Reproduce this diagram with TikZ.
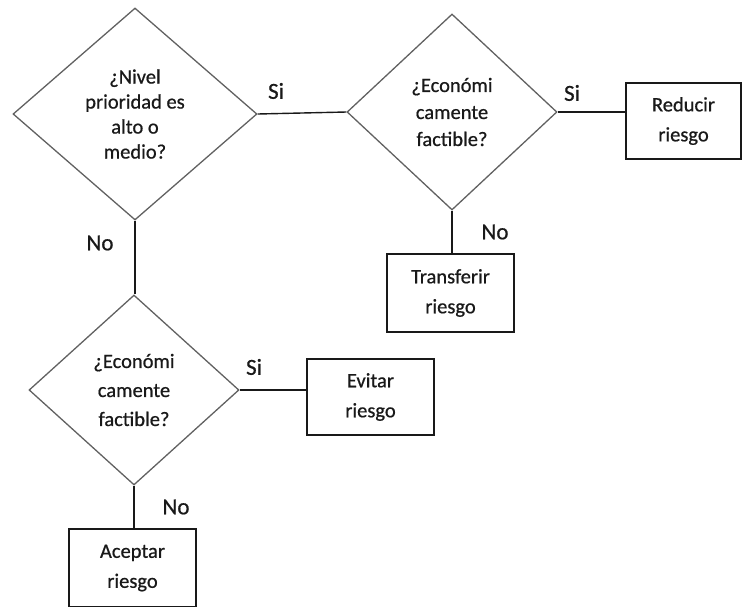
\documentclass[tikz,border=0pt]{standalone}
\usepackage{fontspec}
\setmainfont{Carlito}[FakeBold=0.7]
\usetikzlibrary{shapes.geometric}
\begin{document}
\begin{tikzpicture}[x=1pt,y=-1pt,
  decision/.style={diamond, draw=black!62, line width=1.3pt, inner sep=0pt,
    align=center, text=black!90},
  action/.style={rectangle, draw=black!90, line width=1.4pt, inner sep=0pt,
    align=center, font=\fontsize{20.5}{30}\selectfont, text=black!90},
  answer/.style={font=\fontsize{23}{25}\selectfont, text=black!90},
  link/.style={draw=black!90, line width=1.4pt}]
\useasboundingbox (0,0) rectangle (744,606);

% decision diamonds
\node[decision, minimum width=244pt, minimum height=212pt,
  font=\fontsize{20.5}{25}\selectfont] (d1) at (135,114)
  {¿Nivel\\prioridad es\\alto o\\medio?};
\node[decision, minimum width=210pt, minimum height=196pt,
  font=\fontsize{20.5}{27}\selectfont] (d2) at (452,112)
  {¿Económi\\camente\\factible?};
\node[decision, minimum width=210pt, minimum height=190pt,
  font=\fontsize{20.5}{29}\selectfont] (d3) at (134,390)
  {¿Económi\\camente\\factible?};

% action boxes
\node[action, minimum width=115pt, minimum height=76pt] (red) at (683.5,121)
  {Reducir\\riesgo};
\node[action, minimum width=127pt, minimum height=78pt] (tra) at (450.5,293)
  {Transferir\\riesgo};
\node[action, minimum width=127pt, minimum height=76pt] (evi) at (370.5,397)
  {Evitar\\riesgo};
\node[action, minimum width=127pt, minimum height=78pt] (ace) at (132.5,568)
  {Aceptar\\riesgo};

% connectors
\draw[link] (d1.east) -- (d2.west);
\draw[link] (d2.east) -- (d2.east -| red.west);
\draw[link] (d2.south) -- (d2.south |- tra.north);
\draw[link] (d1.south) -- (d1.south |- d3.north);
\draw[link] (d3.east) -- (d3.east -| evi.west);
\draw[link] (d3.south) -- (d3.south |- ace.north);

% branch labels
\node[answer] (s1) at (276,91) {Si};
\node[answer] (s2) at (572,93) {Si};
\node[answer] (s3) at (254,367) {Si};
\node[answer] (n1) at (100,243) {No};
\node[answer] (n2) at (495,232) {No};
\node[answer] (n3) at (176,507) {No};
\end{tikzpicture}
\end{document}
